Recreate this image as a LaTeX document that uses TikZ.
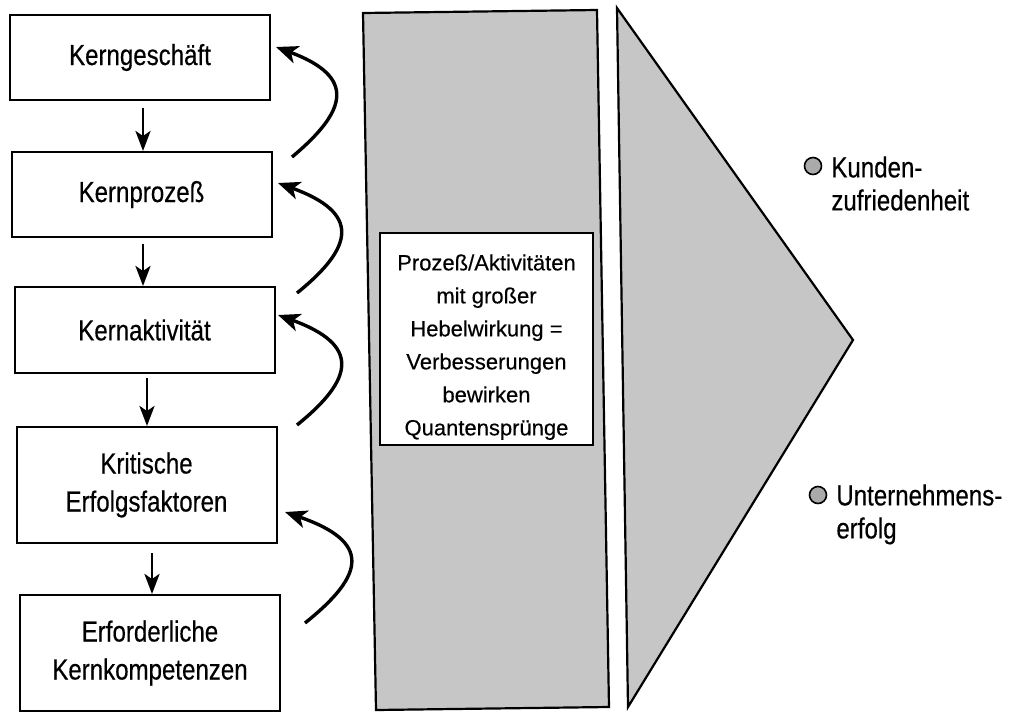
\documentclass[tikz,border=0pt]{standalone}
\usepackage{fontspec}
\setmainfont{Liberation Sans}[FakeBold=0.4]
\newfontfamily\condfont{Liberation Sans}[FakeStretch=0.83,FakeBold=0.4]
\usetikzlibrary{arrows.meta,calc}
\definecolor{halftone}{RGB}{198,198,198}
\definecolor{dotgray}{RGB}{170,170,170}
\tikzset{
  box/.style={draw, line width=1pt, minimum width=130pt, inner sep=0pt,
    font=\condfont\fontsize{14.5pt}{19pt}\selectfont, align=center},
  downarrow/.style={line width=1.4pt, -{Stealth[length=10pt,width=7.5pt,inset=2.5pt]}},
  backarrow/.style={line width=1.7pt, -{Stealth[length=11pt,width=9pt,inset=3pt]}},
  greypanel/.style={draw, line width=1.1pt, fill=halftone, line join=miter},
  bulletdot/.style={circle, draw, line width=0.8pt, fill=dotgray, minimum size=8.5pt, inner sep=0pt},
  rtext/.style={font=\condfont\fontsize{14.5pt}{16.5pt}\selectfont, align=left, inner sep=0pt, anchor=north west},
  midtextstyle/.style={font=\fontsize{11pt}{16.5pt}\selectfont, align=center, inner sep=0pt, anchor=north}
}
\begin{document}
\begin{tikzpicture}[x=0.5pt,y=-0.5pt]
\useasboundingbox (0,0) rectangle (1019,713);
\fill[white] (0,0) rectangle (1019,713);

% left boxes
\node[box, minimum height=42.5pt] (b1) at (140,57.5) {Kerngeschäft};
\node[box, minimum height=42.5pt] (b2) at (141.5,194.5) {Kernprozeß};
\node[box, minimum height=43pt] (b3) at (144.5,330) {Kernaktivität};
\node[box, minimum height=58pt] (b4) at (146.5,485) {Kritische\\Erfolgsfaktoren};
\node[box, minimum height=58pt] (b5) at (150,653) {Erforderliche\\Kernkompetenzen};

% down arrows
\coordinate (d1) at ([shift={(3,7)}]b1.south);
\coordinate (d2) at ([shift={(1.5,6)}]b2.south);
\coordinate (d3) at ([shift={(2.5,4)}]b3.south);
\coordinate (d4) at ([shift={(5.5,9)}]b4.south);
\draw[downarrow] (d1) -- (d1 |- b2.north);
\draw[downarrow] (d2) -- (d2 |- b3.north);
\draw[downarrow] (d3) -- (d3 |- b4.north);
\draw[downarrow] (d4) -- (d4 |- b5.north);

% curved feedback arrows
\coordinate (c1s) at (292,157); \coordinate (c1e) at (276,47);
\coordinate (c2s) at (297,293); \coordinate (c2e) at (278,183);
\coordinate (c3s) at (297,425); \coordinate (c3e) at (278,315);
\coordinate (c4s) at (305,623); \coordinate (c4e) at (285,512);
\draw[backarrow] (c1s) .. controls +(55,-46) and +(81,30) .. (c1e);
\draw[backarrow] (c2s) .. controls +(57,-46) and +(83,30) .. (c2e);
\draw[backarrow] (c3s) .. controls +(57,-46) and +(83,30) .. (c3e);
\draw[backarrow] (c4s) .. controls +(60,-48) and +(87,30) .. (c4e);

% shaded panel and triangle
\draw[greypanel] (363,13) -- (597,10) -- (609,707) -- (376,710) -- cycle;
\draw[greypanel] (617,8) -- (853,340) -- (628,707) -- cycle;

% centre text box
\node[draw, fill=white, line width=1pt, minimum width=106.5pt, minimum height=106pt, inner sep=0pt] (midbox) at (486.5,339) {};
\node[midtextstyle] (midtext) at (486.5,254) {Prozeß/Aktivitäten\\mit großer\\Hebelwirkung =\\Verbesserungen\\bewirken\\Quantensprünge};

% right side
\node[bulletdot] (k0) at (813,166) {};
\node[rtext] (k) at (831,156) {Kunden-\\zufriedenheit};
\node[bulletdot] (u0) at (818,495) {};
\node[rtext] (u) at (836,484) {Unternehmens-\\erfolg};
\end{tikzpicture}
\end{document}
